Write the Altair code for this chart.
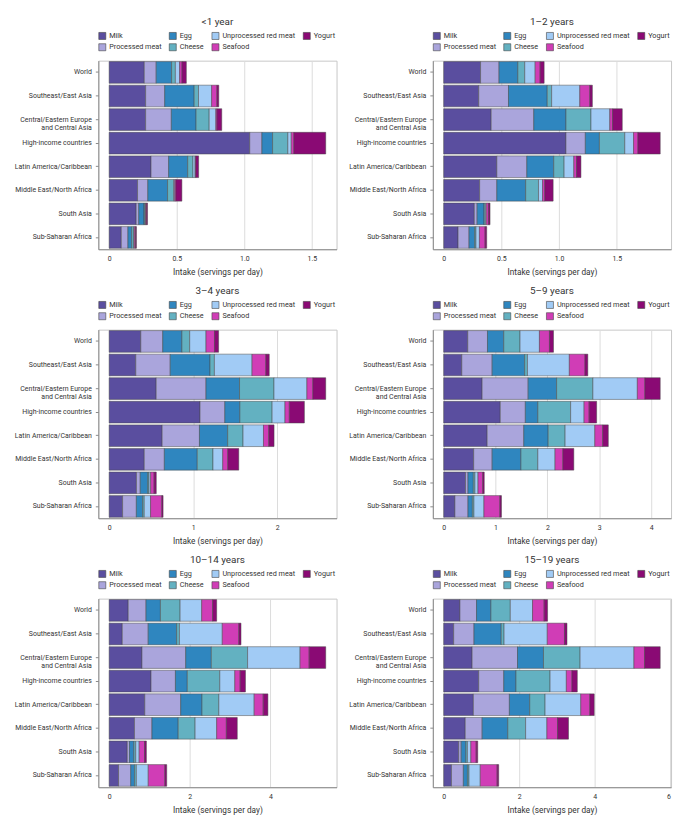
import altair as alt
import pandas as pd

regions = [
    "World",
    "Southeast/East Asia",
    "Central/Eastern Europe and Central Asia",
    "High-income countries",
    "Latin America/Caribbean",
    "Middle East/North Africa",
    "South Asia",
    "Sub-Saharan Africa",
]
foods = ["Milk", "Processed meat", "Egg", "Cheese", "Unprocessed red meat", "Seafood", "Yogurt"]
food_colors = ["#5a4e9f", "#aaa5dc", "#2f86bf", "#63b1c1", "#a1cbf5", "#d03db6", "#8a0a74"]
legend_order = ["Milk", "Egg", "Unprocessed red meat", "Yogurt", "Processed meat", "Cheese", "Seafood"]

age_groups = ["<1 year", "1\u20132 years", "3\u20134 years", "5\u20139 years", "10\u201314 years", "15\u201319 years"]
tick_steps = [0.5, 0.5, 1, 1, 2, 2]

# values per food, in region order
under1 = {
    "Milk": [0.26, 0.27, 0.27, 1.04, 0.31, 0.21, 0.20, 0.09],
    "Processed meat": [0.088, 0.141, 0.19, 0.09, 0.13, 0.076, 0.019, 0.049],
    "Egg": [0.114, 0.218, 0.183, 0.079, 0.141, 0.146, 0.039, 0.028],
    "Cheese": [0.028, 0.032, 0.097, 0.113, 0.039, 0.044, 0.007, 0.014],
    "Unprocessed red meat": [0.031, 0.097, 0.049, 0.025, 0.016, 0.009, 0.005, 0.005],
    "Seafood": [0.018, 0.039, 0.009, 0.019, 0.005, 0.009, 0.005, 0.009],
    "Yogurt": [0.032, 0.014, 0.035, 0.236, 0.021, 0.044, 0.009, 0.007],
}
age1_2 = {
    "Milk": [0.32, 0.304, 0.412, 1.06, 0.461, 0.312, 0.266, 0.125],
    "Processed meat": [0.16, 0.258, 0.369, 0.168, 0.26, 0.149, 0.024, 0.095],
    "Egg": [0.163, 0.336, 0.279, 0.122, 0.233, 0.25, 0.06, 0.049],
    "Cheese": [0.06, 0.038, 0.217, 0.22, 0.09, 0.111, 0.011, 0.011],
    "Unprocessed red meat": [0.09, 0.244, 0.163, 0.076, 0.084, 0.035, 0.008, 0.03],
    "Seafood": [0.043, 0.087, 0.024, 0.038, 0.024, 0.019, 0.019, 0.049],
    "Yogurt": [0.035, 0.022, 0.084, 0.193, 0.038, 0.073, 0.014, 0.014],
}
age3_4 = {
    "Milk": [0.377, 0.317, 0.56, 1.082, 0.631, 0.418, 0.325, 0.16],
    "Processed meat": [0.261, 0.41, 0.593, 0.295, 0.444, 0.239, 0.045, 0.164],
    "Egg": [0.228, 0.474, 0.399, 0.179, 0.336, 0.392, 0.09, 0.075],
    "Cheese": [0.093, 0.052, 0.41, 0.384, 0.183, 0.187, 0.015, 0.019],
    "Unprocessed red meat": [0.194, 0.448, 0.392, 0.153, 0.243, 0.116, 0.019, 0.075],
    "Seafood": [0.101, 0.164, 0.071, 0.052, 0.063, 0.06, 0.041, 0.134],
    "Yogurt": [0.049, 0.041, 0.153, 0.179, 0.063, 0.131, 0.026, 0.015],
}
age5_9 = {
    "Milk": [0.465, 0.35, 0.742, 1.092, 0.839, 0.579, 0.422, 0.217],
    "Processed meat": [0.38, 0.585, 0.887, 0.483, 0.706, 0.356, 0.048, 0.253],
    "Egg": [0.314, 0.627, 0.549, 0.241, 0.471, 0.555, 0.103, 0.084],
    "Cheese": [0.314, 0.054, 0.70, 0.633, 0.326, 0.326, 0.03, 0.03],
    "Unprocessed red meat": [0.374, 0.808, 0.857, 0.259, 0.573, 0.332, 0.06, 0.193],
    "Seafood": [0.193, 0.302, 0.145, 0.097, 0.151, 0.151, 0.09, 0.308],
    "Yogurt": [0.078, 0.054, 0.296, 0.145, 0.109, 0.211, 0.03, 0.03],
}
age10_14 = {
    "Milk": [0.473, 0.326, 0.814, 1.039, 0.884, 0.628, 0.45, 0.233],
    "Processed meat": [0.442, 0.643, 1.085, 0.605, 0.891, 0.434, 0.054, 0.302],
    "Egg": [0.357, 0.705, 0.636, 0.295, 0.527, 0.651, 0.109, 0.093],
    "Cheese": [0.488, 0.07, 0.899, 0.806, 0.419, 0.419, 0.047, 0.047],
    "Unprocessed red meat": [0.535, 1.062, 1.302, 0.372, 0.876, 0.535, 0.085, 0.295],
    "Seafood": [0.271, 0.411, 0.225, 0.132, 0.225, 0.24, 0.132, 0.411],
    "Yogurt": [0.101, 0.054, 0.411, 0.132, 0.116, 0.271, 0.047, 0.047],
}
age15_19 = {
    "Milk": [0.431, 0.265, 0.754, 0.928, 0.787, 0.572, 0.398, 0.207],
    "Processed meat": [0.439, 0.539, 1.201, 0.663, 0.953, 0.447, 0.066, 0.315],
    "Egg": [0.381, 0.721, 0.688, 0.323, 0.539, 0.679, 0.124, 0.108],
    "Cheese": [0.514, 0.075, 0.969, 0.903, 0.406, 0.472, 0.041, 0.041],
    "Unprocessed red meat": [0.588, 1.143, 1.425, 0.431, 0.945, 0.563, 0.091, 0.298],
    "Seafood": [0.307, 0.456, 0.282, 0.149, 0.24, 0.282, 0.141, 0.447],
    "Yogurt": [0.091, 0.066, 0.414, 0.141, 0.116, 0.29, 0.041, 0.041],
}
all_values = [under1, age1_2, age3_4, age5_9, age10_14, age15_19]

FONT = "Roboto"
W, H = 240, 190
YEXT = 84
legend_colors = [food_colors[foods.index(f)] for f in legend_order]


def panel(title, values, step):
    rows = []
    for fi, f in enumerate(foods):
        for ri, r in enumerate(regions):
            rows.append({"region": r, "food": f, "stack_order": fi, "value": values[f][ri]})
    df = pd.DataFrame(rows)
    totals = [sum(values[f][i] for f in foods) for i in range(len(regions))]
    mx = max(totals)
    hi = 1.05 * mx
    ticks = []
    t = 0.0
    while t <= hi + 1e-9:
        ticks.append(round(t, 3))
        t += step
    if step < 1:
        lab = "datum.value == 0 ? '0' : format(datum.value, '.1f')"
    else:
        lab = "format(datum.value, 'd')"
    return (
        alt.Chart(df)
        .mark_bar(stroke="#464646", strokeWidth=0.5)
        .encode(
            x=alt.X(
                "value:Q",
                stack="zero",
                scale=alt.Scale(domain=[-0.05 * mx, hi], nice=False, zero=False),
                axis=alt.Axis(
                    values=ticks,
                    title="Intake (servings per day)",
                    labelExpr=lab,
                    ticks=False,
                    labelPadding=5,
                    titlePadding=6,
                    domainColor="#8a8a8a",
                    gridColor="#dcdcdc",
                ),
            ),
            y=alt.Y(
                "region:N",
                sort=regions,
                scale=alt.Scale(paddingInner=0.08, paddingOuter=0.04),
                axis=alt.Axis(
                    title=None,
                    labelExpr="datum.label == 'Central/Eastern Europe and Central Asia' ? ['Central/Eastern Europe', 'and Central Asia'] : datum.label",
                    tickSize=3,
                    tickColor="#8a8a8a",
                    domainColor="#8a8a8a",
                    labelPadding=4,
                    labelAlign="right",
                    minExtent=YEXT,
                    maxExtent=YEXT,
                    labelLineHeight=9,
                ),
            ),
            color=alt.Color(
                "food:N",
                scale=alt.Scale(domain=legend_order, range=legend_colors),
                legend=alt.Legend(
                    title=None,
                    orient="top",
                    columns=4,
                    symbolType="square",
                    symbolSize=50,
                    symbolStrokeColor="#464646",
                    symbolStrokeWidth=0.6,
                    labelFontSize=7.3,
                    labelOffset=3,
                    labelColor="#333333",
                    rowPadding=1.5,
                    columnPadding=6,
                    offset=8,
                    padding=0,
                ),
            ),
            order=alt.Order("stack_order:Q"),
        )
        .properties(
            width=W,
            height=H,
            title=alt.TitleParams(title, frame="group", fontSize=10, fontWeight="normal", color="#333333", offset=5),
        )
    )


panels = [panel(a, v, s) for a, v, s in zip(age_groups, all_values, tick_steps)]


def row(a, b):
    return alt.hconcat(a, b, spacing=10).resolve_scale(x="independent", y="independent", color="independent").resolve_legend(color="independent")


chart = (
    alt.vconcat(row(panels[0], panels[1]), row(panels[2], panels[3]), row(panels[4], panels[5]), spacing=9)
    .resolve_scale(x="independent", y="independent", color="independent")
    .resolve_legend(color="independent")
    .configure(font=FONT)
    .configure_view(stroke="#c8c8c8", strokeWidth=1)
    .configure_axis(labelFontSize=7, titleFontSize=8.3, labelColor="#333333", titleColor="#333333", titleFontWeight="normal")
)

chart.save("out.html", embed_options={"renderer": "svg", "actions": False})
